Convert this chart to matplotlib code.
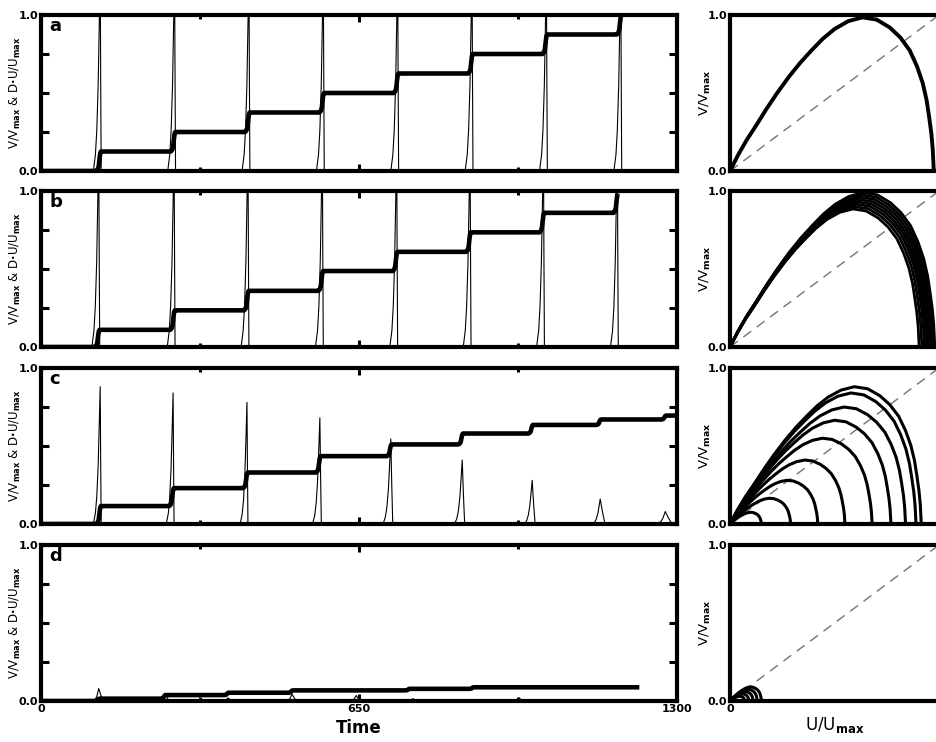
import numpy as np
import matplotlib.pyplot as plt

plt.rcParams['font.family'] = 'DejaVu Sans'
plt.rcParams['font.weight'] = 'bold'
plt.rcParams['mathtext.default'] = 'bf'

# spike times / heights / rise and fall widths (time units), per panel
spike_t_a = [121, 273, 425, 577, 729, 881, 1033, 1185]
spike_h_a = [1.3, 1.3, 1.3, 1.3, 1.3, 1.3, 1.3, 1.3]
spike_rise_a = [14, 14, 14, 14, 14, 14, 14, 14]
spike_fall_a = [2, 2, 2, 2, 2, 2, 2, 2]

spike_t_b = [118, 272, 423, 575, 727, 877, 1027, 1178]
spike_h_b = [1.3, 1.3, 1.3, 1.3, 1.3, 1.3, 1.3, 1.3]
spike_rise_b = [14, 14, 14, 14, 14, 14, 14, 14]
spike_fall_b = [2, 2, 2, 2, 2, 2, 2, 2]

spike_t_c = [121, 270, 421, 570, 715, 861, 1004, 1143, 1276]
spike_h_c = [0.88, 0.84, 0.78, 0.68, 0.545, 0.41, 0.28, 0.16, 0.08]
spike_rise_c = [14, 14, 14, 15, 16, 16, 16, 16, 18]
spike_fall_c = [2, 2, 2, 3, 4, 5, 6, 10, 14]

spike_t_d = [118, 253, 382, 513, 644, 760, 881, 977, 1116]
spike_h_d = [0.08, 0.05, 0.02, 0.045, 0.035, 0.015, 0.01, 0.02, 0.01]
spike_rise_d = [12, 12, 12, 12, 12, 12, 12, 12, 12]
spike_fall_d = [9, 9, 9, 9, 9, 9, 9, 9, 9]

# staircase (V) step times, levels reached, end time
step_t_a = spike_t_a
step_lv_a = [0.125, 0.25, 0.375, 0.5, 0.625, 0.75, 0.875, 1.0]
end_t_a = 1188

step_t_b = spike_t_b
step_lv_b = [0.11, 0.235, 0.36, 0.487, 0.61, 0.735, 0.86, 0.99]
end_t_b = 1180

step_t_c = spike_t_c
step_lv_c = [0.115, 0.23, 0.33, 0.435, 0.51, 0.58, 0.635, 0.67, 0.695]
end_t_c = 1300

step_t_d = [118, 253, 382, 513, 752, 883]
step_lv_d = [0.015, 0.038, 0.053, 0.068, 0.078, 0.088]
end_t_d = 1223

# shapes
rise_dt = [-1, -0.7, -0.5, -0.3, -0.15, 0]
rise_fr = [0, 0.08, 0.2, 0.42, 0.7, 1.0]
fall_dt = [0.5, 1]
fall_fr = [0.45, 0]
step_dt = [-8, -5, -3, -1.5, 0, 1.5]
step_fr = [0, 0.08, 0.25, 0.6, 0.9, 1.0]

# phase-plane loops: U end and V peak of each loop, one normalized arc shape
arc_u = [0, 0.04, 0.081, 0.13, 0.177, 0.23, 0.289, 0.345, 0.4, 0.455, 0.513, 0.58,
         0.65, 0.72, 0.784, 0.835, 0.882, 0.918, 0.946, 0.965, 0.977, 0.988, 0.995, 1.0]
arc_v = [0, 0.105, 0.2, 0.3, 0.4, 0.505, 0.613, 0.705, 0.785, 0.86, 0.924, 0.975,
         1.0, 0.985, 0.934, 0.87, 0.785, 0.68, 0.571, 0.46, 0.354, 0.245, 0.141, 0]

loop_end_a = [0.975]
loop_peak_a = [0.985]
loop_end_b = [0.98, 0.97, 0.96, 0.95, 0.94, 0.93, 0.918, 0.905]
loop_peak_b = [0.99, 0.975, 0.96, 0.945, 0.93, 0.915, 0.9, 0.885]
loop_end_c = [0.915, 0.89, 0.84, 0.77, 0.68, 0.55, 0.42, 0.29, 0.15]
loop_peak_c = [0.88, 0.84, 0.75, 0.665, 0.55, 0.41, 0.28, 0.165, 0.075]
loop_end_d = [0.15, 0.13, 0.11, 0.09, 0.07]
loop_peak_d = [0.09, 0.075, 0.06, 0.045, 0.03]

panels = [
    ('a', spike_t_a, spike_h_a, spike_rise_a, spike_fall_a, step_t_a, step_lv_a, end_t_a, loop_end_a, loop_peak_a, 2.8),
    ('b', spike_t_b, spike_h_b, spike_rise_b, spike_fall_b, step_t_b, step_lv_b, end_t_b, loop_end_b, loop_peak_b, 2.0),
    ('c', spike_t_c, spike_h_c, spike_rise_c, spike_fall_c, step_t_c, step_lv_c, end_t_c, loop_end_c, loop_peak_c, 2.2),
    ('d', spike_t_d, spike_h_d, spike_rise_d, spike_fall_d, step_t_d, step_lv_d, end_t_d, loop_end_d, loop_peak_d, 2.2),
]

W, H = 937, 742
fig = plt.figure(figsize=(W / 100, H / 100), dpi=100)
tops = [15, 191, 368, 545]
ph = 156

for i, (name, st, sh, sr, sf, tt, lv, t_end, le, lp, lw_arc) in enumerate(panels):
    top = tops[i]
    bottom = 1 - (top + ph) / H
    ax = fig.add_axes([41 / W, bottom, 636 / W, ph / H])
    ax2 = fig.add_axes([730 / W, bottom, 209 / W, ph / H])

    # thin U trace
    ux, uy = [0], [0]
    for t, h, r, f in zip(st, sh, sr, sf):
        ux += [t + r * d for d in rise_dt] + [t + f * d for d in fall_dt]
        uy += [h * fr for fr in rise_fr] + [h * fr for fr in fall_fr]
    ux.append(1300)
    uy.append(0)
    ax.plot(ux, uy, color='black', lw=0.8)

    # thick V staircase
    vx, vy = [0], [0]
    prev = 0
    for t, L in zip(tt, lv):
        vx += [t + d for d in step_dt]
        vy += [prev + (L - prev) * fr for fr in step_fr]
        prev = L
    vx.append(t_end)
    vy.append(prev)
    ax.plot(vx, vy, color='black', lw=3.3, solid_capstyle='butt')

    ax.set_xlim(0, 1300)
    ax.set_ylim(0, 1)
    ax.set_xticks([0, 650, 1300])
    ax.set_xticks([325, 975], minor=True)
    ax.set_yticks([0, 0.25, 0.5, 0.75, 1.0])
    ax.set_yticklabels(['0.0', '', '', '', '1.0'])
    ax.tick_params(axis='both', which='both', direction='in', top=True, right=True,
                   width=2.2, labelsize=8, pad=2)
    ax.tick_params(axis='y', length=6)
    ax.tick_params(axis='x', which='major', length=5)
    ax.tick_params(axis='x', which='minor', length=3)
    if i == 3:
        ax.set_xticklabels(['0', '650', '1300'])
        ax.set_xlabel('Time', fontsize=12, fontweight='bold', labelpad=4)
    else:
        ax.set_xticklabels([])
    ax.set_ylabel(r'V/V$_{max}$ & D$\cdot$U/U$_{max}$', fontsize=8.5)
    ax.yaxis.set_label_coords(-0.028, 0.5)
    ax.text(0.013, 0.93, name, transform=ax.transAxes, fontsize=13, fontweight='heavy',
            va='center', ha='left')

    # phase plane
    ax2.plot([0, 1.2], [0, 1.2], color='0.45', lw=1.0, dashes=(7, 5))
    for ue, vp in zip(le, lp):
        ax2.plot([ue * u for u in arc_u], [vp * v for v in arc_v], color='black',
                 lw=lw_arc, solid_capstyle='round')
    ax2.set_xlim(0, 1)
    ax2.set_ylim(0, 1)
    ax2.set_yticks([0, 1])
    ax2.set_yticklabels(['0.0', '1.0'])
    ax2.set_xticks([0])
    ax2.tick_params(axis='both', length=0, labelsize=8, pad=2)
    if i == 3:
        ax2.set_xticklabels(['0'])
        ax2.set_xlabel(r'U/U$_{\mathrm{max}}$', fontsize=12, fontweight='normal', labelpad=1)
    else:
        ax2.set_xticklabels([])
    ax2.set_ylabel(r'V/V$_{max}$', fontsize=9.5)
    ax2.yaxis.set_label_coords(-0.081, 0.5)

    for a in (ax, ax2):
        for sp in a.spines.values():
            sp.set_linewidth(3.0)

fig.savefig('out.png', dpi=100)
